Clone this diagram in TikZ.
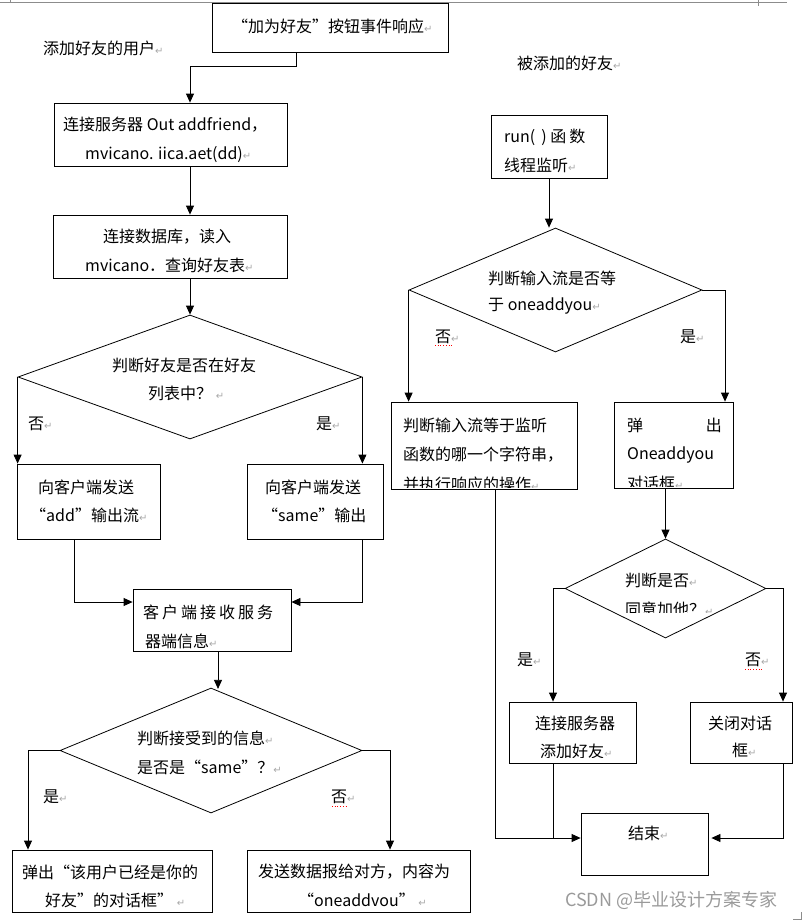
\documentclass[tikz,border=0pt]{standalone}
\usepackage{fontspec}
\setmainfont{Noto Sans CJK SC}
\newfontfamily\retfont{DejaVu Sans}
\usetikzlibrary{shapes.geometric,arrows.meta,calc}
\definecolor{retgray}{HTML}{A8A8A8}
\definecolor{wmgray}{HTML}{9A9A9A}
\definecolor{margray}{HTML}{8C8C8C}
\newcommand\parmk{{\retfont\fontsize{10}{10}\selectfont\textcolor{retgray}{↵}}}
\begin{document}
\begin{tikzpicture}[x=1pt,y=-1pt,
  box/.style={draw, line width=0.8pt, inner sep=0pt, rectangle},
  dia/.style={draw, line width=0.8pt, diamond, inner sep=0pt},
  txt/.style={anchor=west, inner sep=0pt, font=\fontsize{16}{16}\selectfont},
  arr/.style={line width=0.8pt, -{Triangle[length=9pt,width=8pt]}},
  ln/.style={line width=0.8pt},
  spell/.style={red, dotted, line width=0.7pt}]
\useasboundingbox (0,0) rectangle (811,921);
% page marks
\draw[margray, line width=0.6pt] (0,2) -- (787,2);
\draw[margray, line width=0.6pt] (10,0) -- (10,3);
\draw[margray, line width=0.6pt] (758,0) -- (758,6);
\draw[margray, line width=0.6pt] (793,919) -- (801,919) -- (801,912);

% ---------- boxes ----------
\node[box, minimum width=236pt, minimum height=49pt] (b1) at (330,27.5) {};
\node[box, minimum width=233pt, minimum height=63pt] (b2) at (170.5,134.5) {};
\node[box, minimum width=234pt, minimum height=63pt] (b3) at (170,246.5) {};
\node[dia, minimum width=344pt, minimum height=124pt] (d1) at (190,377) {};
\node[box, minimum width=143pt, minimum height=75pt] (b4) at (88.5,501.5) {};
\node[box, minimum width=136pt, minimum height=75pt] (b5) at (315,501.5) {};
\node[box, minimum width=158pt, minimum height=62pt] (b6) at (212,620) {};
\node[dia, minimum width=302pt, minimum height=125pt] (d2) at (211,750.5) {};
\node[box, minimum width=200pt, minimum height=62pt] (b7) at (112,881) {};
\node[box, minimum width=223pt, minimum height=62pt] (b8) at (358.5,881) {};

\node[box, minimum width=116pt, minimum height=63pt] (r1) at (549,146.5) {};
\node[dia, minimum width=293pt, minimum height=124pt] (dr1) at (555.5,290) {};
\node[box, minimum width=186pt, minimum height=87pt] (r2) at (484,445.5) {};
\node[box, minimum width=119pt, minimum height=86pt] (r3) at (673.5,445) {};
\node[dia, minimum width=201pt, minimum height=99pt] (dr2) at (665.5,588.5) {};
\node[box, minimum width=127pt, minimum height=61pt] (r4) at (572.5,732.5) {};
\node[box, minimum width=102pt, minimum height=61pt] (r5) at (741,732.5) {};
\node[box, minimum width=127pt, minimum height=62pt] (end) at (644.5,844) {};

% ---------- texts ----------
\node[txt] (lu) at (43,48) {添加好友的用户\parmk};
\node[txt] (lf) at (517,63) {被添加的好友\parmk};

\node[txt] (t1) at (232,26) {“加为好友”按钮事件响应\parmk};
\node[txt] (t2a) at (63,125) {连接服务器 Out addfriend，};
\node[txt] (t2b) at (85,155) {mvicano. iica.aet(dd)\parmk};
\node[txt] (t3a) at (103,237) {连接数据库，读入};
\node[txt] (t3b) at (85,265) {mvicano．查询好友表\parmk};
\node[txt] (td1a) at (112,365) {判断好友是否在好友};
\node[txt] (td1b) at (148,393) {列表中？ \parmk};
\node[txt] (ld1n) at (28,424) {否\parmk};
\node[txt] (ld1y) at (316,424) {是\parmk};
\node[txt] (t4a) at (38,487) {向客户端发送};
\node[txt] (t4b) at (30,515) {“add”输出流\parmk};
\node[txt] (t5a) at (265,487) {向客户端发送};
\node[txt] (t5b) at (262,515) {“same”输出};
\node[txt] (t6a) at (143,612) {客\hspace{3pt}户\hspace{3pt}端\hspace{3pt}接\hspace{3pt}收\hspace{3pt}服\hspace{3pt}务};
\begin{scope}
\clip (133,589) rectangle (291,648);
\node[txt] (t6b) at (145,641) {器端信息\parmk};
\end{scope}
\node[txt] (td2a) at (137,738) {判断接受到的信息\parmk};
\node[txt] (td2b) at (137,767) {是否是“same”？\parmk};
\node[txt] (ld2y) at (43,797) {是\parmk};
\node[txt] (ld2n) at (331,797) {否\parmk};
\draw[spell] (332,806) -- (347,806);
\node[txt] (t7a) at (22,872) {弹出“该用户已经是你的};
\node[txt] (t7b) at (45,900) {好友”的对话框” \parmk};
\node[txt] (t8a) at (258,872) {发送数据报给对方，内容为};
\node[txt] (t8b) at (298,900) {“oneaddvou” \parmk};

\node[txt] (tr1a) at (504,137) {run(\hspace{6pt}) 函\hspace{3pt}数};
\node[txt] (tr1b) at (504,165) {线程监听\parmk};
\node[txt] (tdr1a) at (488,278) {判断输入流是否等};
\node[txt] (tdr1b) at (488,306) {于 oneaddyou\parmk};
\node[txt] (ldr1n) at (435,337) {否\parmk};
\draw[spell] (435,345) -- (452,345);
\node[txt] (ldr1y) at (680,337) {是\parmk};
\node[txt] (tr2a) at (403,425) {判断输入流等于监听};
\node[txt] (tr2b) at (403,455) {函数的哪一个字符串，};
\begin{scope}
\clip (391,402) rectangle (577,487);
\node[txt] (tr2c) at (403,484) {并执行响应的操作\parmk};
\end{scope}
\node[txt] (tr3a) at (627,425) {弹};
\node[txt, anchor=east] (tr3x) at (722,425) {出};
\node[txt] (tr3b) at (627,455) {Oneaddyou};
\begin{scope}
\clip (614,402) rectangle (733,486);
\node[txt] (tr3c) at (627,483) {对话框\parmk};
\end{scope}
\node[txt] (tdr2a) at (625,580) {判断是否\parmk};
\begin{scope}
\clip (560,560) rectangle (770,612);
\node[txt] (tdr2b) at (625,609) {同意加他？\parmk};
\end{scope}
\node[txt] (ldr2y) at (517,660) {是\parmk};
\node[txt] (ldr2n) at (745,660) {否\parmk};
\draw[spell] (745,669) -- (763,669);
\node[txt] (tr4a) at (535,723) {连接服务器};
\begin{scope}
\clip (509,702) rectangle (636,757);
\node[txt] (tr4b) at (540,751) {添加好友\parmk};
\end{scope}
\node[txt] (tr5a) at (708,723) {关闭对话};
\node[txt] (tr5b) at (732,750) {框\parmk};
\node[txt] (tend) at (628,833) {结束\parmk};

\node[anchor=west, inner sep=0pt, font=\fontsize{18}{18}\selectfont, text=wmgray] (wm) at (565,900) {CSDN @毕业设计方案专家};

% ---------- connectors ----------
\coordinate (k1) at (190,66);
\draw[arr] ([xshift=-34pt]b1.south) |- (k1) -- ([xshift=19.5pt]b2.north);
\draw[arr] ([xshift=19.5pt]b2.south) -- ([xshift=20pt]b3.north);
\draw[arr] ([xshift=20pt]b3.south) -- (d1.north);
\draw[arr] (d1.west) -- (d1.west |- b4.north);
\draw[arr] (d1.east) -- (d1.east |- b5.north);
\draw[arr] ([xshift=-14.5pt]b4.south) |- ([yshift=18pt]b6.west);
\draw[arr] ([xshift=47pt]b5.south) |- ([yshift=18pt]b6.east);
\draw[arr] ([xshift=6pt]b6.south) -- ++(0,-37.5pt);
\draw[arr] (d2.west) -| ([xshift=-84pt]b7.north);
\draw[arr] (d2.east) -| ([xshift=31.5pt]b8.north);

\draw[arr] (r1.south) -- (r1.south |- dr1.north);
\draw[arr] (dr1.west) -- (dr1.west |- r2.north);
\draw[arr] (dr1.east) -| ([xshift=51.5pt]r3.north);
\draw[arr] (dr2.north |- r3.south) -- (dr2.north);
\draw[arr] (dr2.west) -| ([xshift=-19.5pt]r4.north);
\draw[arr] (dr2.east) -| ([xshift=42pt]r5.north);
\coordinate (j1) at ([yshift=6pt]end.west);
\coordinate (j2) at ([yshift=6pt]end.east);
\coordinate (r2b) at ([xshift=11.5pt]r2.south);
\coordinate (r4b) at ([xshift=-19.5pt]r4.south);
\coordinate (r5b) at ([xshift=42pt]r5.south);
\draw[arr] (r2b) |- (j1);
\draw[ln] (r4b) -- (r4b |- j1);
\draw[arr] (r5b) |- ([xshift=3pt]j2);
\end{tikzpicture}
\end{document}
